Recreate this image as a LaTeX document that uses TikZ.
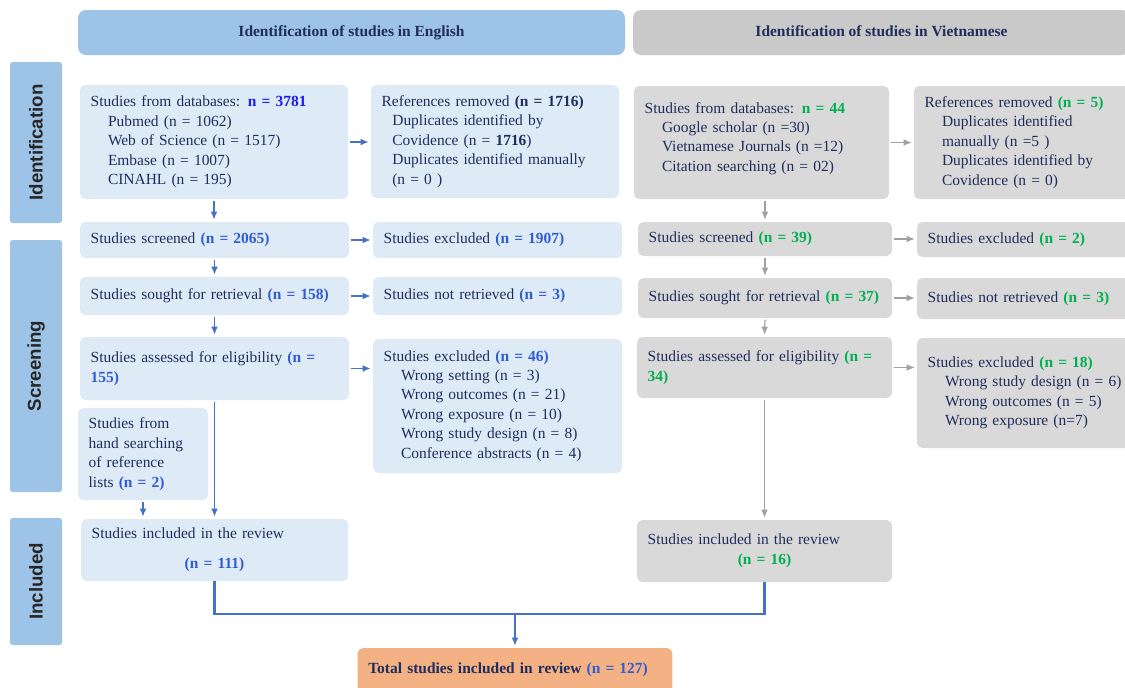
\documentclass[tikz,border=0pt]{standalone}
\usepackage{fontspec}
\setmainfont{Liberation Serif}
\newfontfamily\sidefont{Liberation Sans}
\usetikzlibrary{arrows.meta}
\definecolor{navy}{HTML}{1F2D5C}
\definecolor{nblue}{HTML}{2F5BD3}
\definecolor{vblue}{HTML}{1A1AF2}
\definecolor{ngreen}{HTML}{00B050}
\definecolor{boxblue}{HTML}{DEEBF7}
\definecolor{boxgray}{HTML}{D9D9D9}
\definecolor{hdrblue}{HTML}{9DC3E6}
\definecolor{hdrgray}{HTML}{C9C9C9}
\definecolor{totorange}{HTML}{F4B183}
\definecolor{arrblue}{HTML}{4472C4}
\definecolor{arrgray}{HTML}{A0A0A0}
\newcommand{\nbl}[1]{\textbf{\color{nblue}#1}}
\newcommand{\ngr}[1]{\textbf{\color{ngreen}#1}}
\newcommand{\itm}{\hspace*{13pt}}
\tikzset{
  txt/.style={font=\fontsize{11.6}{14.6}\selectfont, text=navy},
  wh/.style 2 args={minimum width=#1*0.75pt, minimum height=#2*0.75pt, text width=#1*0.75pt-16pt},
  ebox/.style={txt, fill=boxblue, rounded corners=4pt, inner xsep=8pt, inner ysep=2pt, align=left},
  vbox/.style={ebox, fill=boxgray},
  hdr/.style={txt, font=\bfseries\fontsize{11.6}{14.6}\selectfont, rounded corners=6pt, align=center, text height=8pt, text depth=2.5pt},
  sidebar/.style 2 args={fill=hdrblue, rotate=90, minimum width=#2*0.75pt, minimum height=#1*0.75pt, rounded corners=2pt, font=\sidefont\bfseries\fontsize{14}{16}\selectfont, text=black!85},
  earr/.style={draw=arrblue, line width=1.1pt, -{Latex[length=6pt,width=5pt]}, shorten >=1.5pt, shorten <=1pt},
  varr/.style={earr, draw=arrgray, line width=0.9pt},
  mergeline/.style={draw=arrblue, line width=1.6pt}
}
\begin{document}
\begin{tikzpicture}[x=0.75pt,y=0.75pt,yscale=-1,xscale=1]
\useasboundingbox (0,0) rectangle (1125,687);
\draw (351.5,32.5) node [hdr, fill=hdrblue, minimum width=410.25pt, minimum height=33.75pt] (hdrE) {Identification of studies in English};
\draw (881.5,32.5) node [hdr, fill=hdrgray, minimum width=372.75pt, minimum height=33.75pt] (hdrV) {Identification of studies in Vietnamese};

\draw (36,142.5) node [sidebar={52}{161}] (sideI) {Identification};
\draw (36,366) node [sidebar={52}{252}] (sideS) {Screening};
\draw (36,581.5) node [sidebar={52}{127}] (sideN) {Included};

\draw (214,142) node [ebox, wh={268}{114}] (dbE) {Studies from databases: \textbf{\color{vblue}n = 3781}\\ \itm Pubmed (n = 1062)\\ \itm Web of Science (n = 1517)\\ \itm Embase (n = 1007)\\ \itm CINAHL (n = 195)};
\draw (495,141.5) node [ebox, wh={248}{113}] (remE) {References removed \textbf{(n = 1716)}\\ \hspace*{8pt}Duplicates identified by\\ \hspace*{8pt}Covidence (n = \textbf{1716})\\ \hspace*{8pt}Duplicates identified manually\\ \hspace*{8pt}(n = 0 )};
\draw (214.5,240) node [ebox, wh={269}{36}] (scrE) {Studies screened \nbl{(n = 2065)}};
\draw (497.5,240) node [ebox, wh={249}{36}] (excE) {Studies excluded \nbl{(n = 1907)}};
\draw (214.5,296) node [ebox, wh={269}{38}] (retE) {Studies sought for retrieval \nbl{(n = 158)}};
\draw (497.5,296) node [ebox, wh={249}{38}] (nretE) {Studies not retrieved \nbl{(n = 3)}};
\draw (214.5,368.5) node [ebox, wh={269}{63}] (eligE) {Studies assessed for eligibility \nbl{(n =}\\ \nbl{155)}};
\draw (497.5,406) node [ebox, wh={249}{134}] (ex46E) {Studies excluded \nbl{(n = 46)}\\ \itm Wrong setting (n = 3)\\ \itm Wrong outcomes (n = 21)\\ \itm Wrong exposure (n = 10)\\ \itm Wrong study design (n = 8)\\ \itm Conference abstracts (n = 4)};
\draw (143,454) node [ebox, wh={130}{92}] (handE) {Studies from\\ hand searching\\ of reference\\ lists \nbl{(n = 2)}};
\draw (214.5,550) node [ebox, wh={267}{62}, align=center] (inclE) {\makebox[\linewidth][l]{Studies included in the review}\\[8pt] \nbl{(n = 111)}};

\draw (761.5,142.5) node [vbox, wh={255}{113}] (dbV) {Studies from databases: \ngr{n = 44}\\ \itm Google scholar (n =30)\\ \itm Vietnamese Journals (n =12)\\ \itm Citation searching (n = 02)\\[-6pt] \mbox{}};
\draw (1031,142.5) node [vbox, wh={234}{113}] (remV) {References removed \ngr{(n = 5)}\\ \itm Duplicates identified\\ \itm manually (n =5 )\\ \itm Duplicates identified by\\ \itm Covidence (n = 0)};
\draw (765,239) node [vbox, wh={254}{34}] (scrV) {Studies screened \ngr{(n = 39)}};
\draw (1032.5,239.5) node [vbox, wh={231}{35}] (excV) {Studies excluded \ngr{(n = 2)}};
\draw (765,298) node [vbox, wh={254}{40}] (retV) {Studies sought for retrieval \ngr{(n = 37)}};
\draw (1032.5,298.5) node [vbox, wh={231}{41}] (nretV) {Studies not retrieved \ngr{(n = 3)}};
\draw (764.5,367.5) node [vbox, wh={255}{61}] (eligV) {Studies assessed for eligibility \ngr{(n =}\\ \ngr{34)}};
\draw (1032.5,393) node [vbox, wh={231}{110}] (ex18V) {Studies excluded \ngr{(n = 18)}\\ \itm Wrong study design (n = 6)\\ \itm Wrong outcomes (n = 5)\\ \itm Wrong exposure (n=7)};
\draw (764.5,551) node [vbox, wh={255}{62}, align=center] (inclV) {\makebox[\linewidth][l]{Studies included in the review}\\ \ngr{(n = 16)}};

\draw (515,670) node [ebox, fill=totorange, wh={312}{44}, text width=220pt, font=\bfseries\fontsize{11.6}{14.6}\selectfont] (tot) {Total studies included in review \nbl{(n = 127)}};

\draw[earr] (dbE.south) -- (dbE.south |- scrE.north);
\draw[earr] (scrE.south) -- (retE.north);
\draw[earr] (retE.south) -- (eligE.north);
\draw[earr] (eligE.south) -- (inclE.north);
\draw[earr] (handE.south) -- (handE.south |- inclE.north);
\draw[earr] (dbE.east) -- (dbE.east -| remE.west);
\draw[earr] (scrE.east) -- (excE.west);
\draw[earr] (retE.east) -- (nretE.west);
\draw[earr] (eligE.east) -- (eligE.east -| ex46E.west);

\draw[varr] (scrV.north |- dbV.south) -- (scrV.north);
\draw[varr] (scrV.south) -- (retV.north);
\draw[varr] (retV.south) -- (eligV.north);
\draw[varr] (eligV.south) -- (inclV.north);
\draw[varr] (dbV.east) -- (dbV.east -| remV.west);
\draw[varr] (scrV.east) -- (scrV.east -| excV.west);
\draw[varr] (retV.east) -- (retV.east -| nretV.west);
\draw[varr] (eligV.east) -- (eligV.east -| ex18V.west);

\coordinate (jn) at (515,614);
\draw[mergeline] (inclE.south) |- (jn) -| (inclV.south);
\draw[earr] (jn) -- (tot.north);
\end{tikzpicture}
\end{document}
